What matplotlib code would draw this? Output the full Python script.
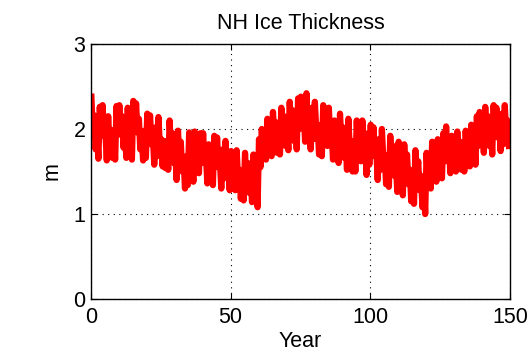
import matplotlib
matplotlib.use("Agg")
import matplotlib.pyplot as plt

# annual maxima / minima of NH ice thickness (m), years 0..149
ice_max = [
    2.38, 2.16, 1.98, 2.26, 2.28, 1.97, 2.15, 1.99, 1.96, 2.27,
    2.28, 2.15, 1.98, 2.25, 1.97, 2.33, 2.30, 2.12, 1.96, 1.98,
    2.18, 2.16, 1.92, 2.02, 2.14, 1.88, 1.86, 1.85, 2.10, 1.95,
    1.75, 1.98, 1.85, 1.66, 1.68, 1.96, 1.72, 1.97, 1.82, 1.95,
    1.95, 1.70, 1.82, 1.68, 1.92, 1.90, 1.64, 1.76, 1.86, 1.62,
    1.74, 1.62, 1.75, 1.52, 1.50, 1.72, 1.60, 1.48, 1.70, 1.45,
    1.88, 2.00, 1.95, 2.12, 2.00, 2.20, 2.08, 2.02, 2.25, 2.15,
    2.08, 2.32, 2.22, 2.10, 2.36, 2.38, 2.22, 2.42, 2.10, 2.25,
    2.32, 2.05, 2.02, 2.28, 2.15, 2.25, 1.98, 2.10, 1.95, 2.18,
    2.02, 1.88, 2.12, 1.86, 1.85, 2.10, 1.98, 2.10, 1.82, 1.95,
    2.05, 2.02, 1.75, 1.88, 2.00, 1.70, 1.68, 1.92, 1.80, 1.62,
    1.85, 1.58, 1.82, 1.70, 1.52, 1.50, 1.75, 1.62, 1.45, 1.40,
    1.72, 1.65, 1.85, 1.70, 1.88, 1.78, 1.95, 2.03, 1.80, 1.92,
    1.82, 1.97, 1.85, 1.80, 1.98, 1.90, 2.05, 1.88, 2.15, 2.20,
    2.05, 2.26, 2.15, 2.04, 2.28, 2.25, 2.06, 2.18, 2.28, 2.10,
]
ice_min = [
    1.95, 1.76, 1.65, 1.92, 1.95, 1.63, 1.78, 1.66, 1.64, 1.93,
    1.95, 1.78, 1.66, 1.92, 1.64, 1.98, 1.96, 1.76, 1.63, 1.66,
    1.85, 1.82, 1.58, 1.68, 1.80, 1.56, 1.54, 1.52, 1.76, 1.60,
    1.40, 1.64, 1.50, 1.30, 1.34, 1.62, 1.38, 1.62, 1.48, 1.60,
    1.62, 1.36, 1.46, 1.34, 1.58, 1.55, 1.30, 1.42, 1.52, 1.28,
    1.40, 1.28, 1.42, 1.18, 1.16, 1.38, 1.25, 1.14, 1.35, 1.08,
    1.55, 1.70, 1.64, 1.80, 1.68, 1.88, 1.72, 1.70, 1.92, 1.80,
    1.75, 1.98, 1.86, 1.76, 2.00, 2.02, 1.85, 2.00, 1.76, 1.88,
    1.98, 1.70, 1.68, 1.94, 1.80, 1.90, 1.64, 1.76, 1.60, 1.85,
    1.66, 1.52, 1.78, 1.50, 1.50, 1.76, 1.62, 1.75, 1.46, 1.58,
    1.70, 1.68, 1.40, 1.52, 1.65, 1.35, 1.32, 1.58, 1.45, 1.26,
    1.50, 1.22, 1.46, 1.35, 1.15, 1.12, 1.40, 1.28, 1.08, 1.00,
    1.35, 1.30, 1.50, 1.38, 1.55, 1.42, 1.62, 1.66, 1.48, 1.58,
    1.50, 1.64, 1.52, 1.50, 1.65, 1.56, 1.72, 1.58, 1.80, 1.86,
    1.72, 1.92, 1.80, 1.70, 1.94, 1.90, 1.74, 1.82, 1.92, 1.80,
]

# seasonal series: winter max then summer min each year
t = []
h = []
for yr in range(len(ice_max)):
    t.append(yr + 0.15)
    h.append(ice_max[yr])
    t.append(yr + 0.65)
    h.append(ice_min[yr])

plt.rcParams['font.family'] = ['Liberation Sans', 'DejaVu Sans']
fs = 15.5

fig = plt.figure(figsize=(5.29, 3.54), dpi=100)
ax = fig.add_axes([0.172, 0.155, 0.792, 0.721])

ax.plot(t, h, color='red', linewidth=4.5, solid_joinstyle='round')

ax.set_xlim(0, 150)
ax.set_ylim(0, 3)
ax.set_xticks([0, 50, 100, 150])
ax.set_yticks([0, 1, 2, 3])
ax.grid(True, color='black', linestyle=(0, (1, 4)), linewidth=0.8)
ax.tick_params(direction='in', labelsize=fs, length=4, top=True, right=True)
ax.tick_params(axis='x', pad=6)
ax.tick_params(axis='y', pad=4)
for s in ax.spines.values():
    s.set_linewidth(1.0)

ax.set_title("NH Ice Thickness", fontsize=fs, pad=11)
ax.set_xlabel("Year", fontsize=fs, labelpad=2)
ax.set_ylabel("m", fontsize=fs, labelpad=8)

plt.savefig("out.png", dpi=100)
